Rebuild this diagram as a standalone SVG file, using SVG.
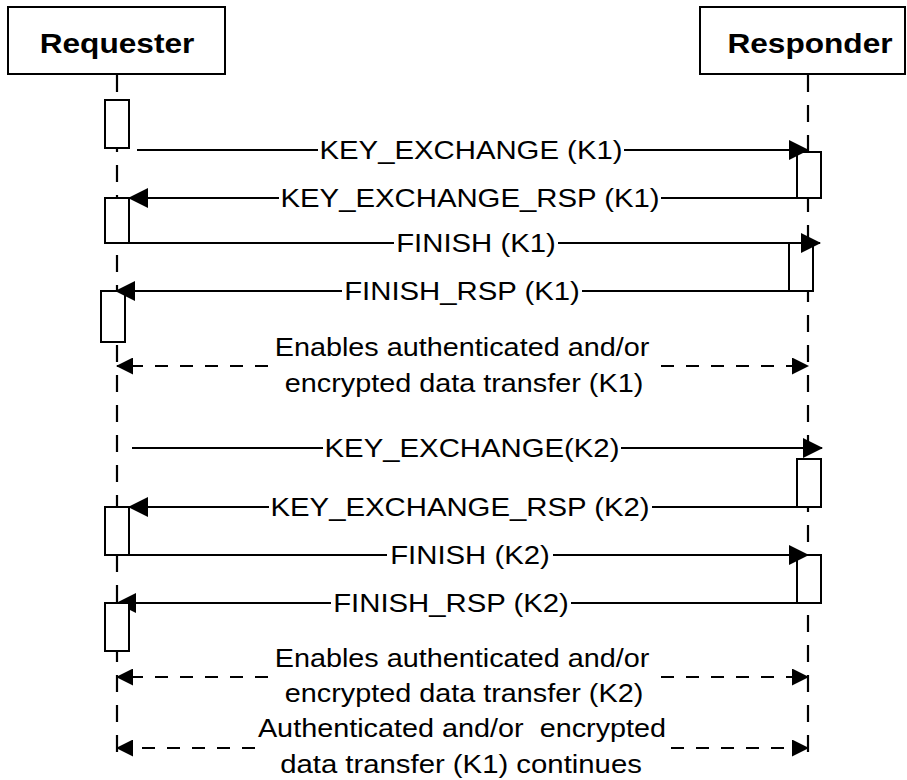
<svg xmlns="http://www.w3.org/2000/svg" width="907" height="780" viewBox="0 0 907 780">
<defs>
<style>
.hbox{fill:#fff;stroke:#000;stroke-width:2}
.act{fill:#fff;stroke:#000;stroke-width:2}
.life{stroke:#000;stroke-width:2.2;stroke-dasharray:17 13;fill:none}
.msg{stroke:#000;stroke-width:2;fill:none;marker-end:url(#ah)}
.dmsg{stroke:#000;stroke-width:2;fill:none;stroke-dasharray:13 12;marker-end:url(#ahd)}
.gap{fill:#fff;stroke:none}
text{font-family:"Liberation Sans",Arial,sans-serif;fill:#000}
.lbl{font-size:25.5px;text-anchor:middle}
.hdr{font-size:28px;font-weight:bold;text-anchor:middle}
</style>
<marker id="ah" viewBox="0 0 20 20" refX="19" refY="10" markerWidth="20" markerHeight="20" markerUnits="userSpaceOnUse" orient="auto"><path d="M0,0 L20,10 L0,20 z" fill="#000"/></marker>
<marker id="ahd" viewBox="0 0 17 17" refX="16" refY="8.5" markerWidth="17" markerHeight="17" markerUnits="userSpaceOnUse" orient="auto"><path d="M0,0 L17,8.5 L0,17 z" fill="#000"/></marker>
</defs>
<rect width="907" height="780" fill="#fff"/>
<g id="lifelines">
<line class="life" x1="117" y1="75" x2="117" y2="762"/>
<line class="life" x1="808" y1="75" x2="808" y2="762"/>
</g>
<g id="requester">
<rect class="hbox" x="8" y="7" width="217" height="67"/>
<text class="hdr" transform="translate(117,53) scale(1.13,1)">Requester</text>
</g>
<g id="responder">
<rect class="hbox" x="700" y="7" width="205" height="67"/>
<text class="hdr" transform="translate(810,53) scale(1.13,1)">Responder</text>
</g>
<g id="activations">
<rect class="act" x="105" y="100" width="24" height="48"/>
<rect class="act" x="105" y="198" width="24" height="45"/>
<rect class="act" x="101" y="291" width="24" height="51"/>
<rect class="act" x="105" y="507" width="24" height="48"/>
<rect class="act" x="797" y="152" width="24" height="46"/>
<rect class="act" x="789" y="243" width="24" height="48"/>
<rect class="act" x="797" y="459" width="24" height="48"/>
<rect class="act" x="797" y="555" width="24" height="48"/>
</g>
<g id="connectors">
<line class="msg" x1="137" y1="150" x2="808" y2="150"/>
<line class="msg" x1="797" y1="198" x2="129" y2="198"/>
<line class="msg" x1="129" y1="243" x2="820" y2="243"/>
<line class="msg" x1="789" y1="291" x2="116" y2="291"/>
<line class="msg" x1="132" y1="448" x2="822" y2="448"/>
<line class="msg" x1="797" y1="507" x2="129" y2="507"/>
<line class="msg" x1="129" y1="555" x2="808" y2="555"/>
<line class="msg" x1="797" y1="603" x2="117" y2="603"/>
<line class="dmsg" x1="268" y1="366" x2="117" y2="366"/>
<line class="dmsg" x1="661" y1="366" x2="808" y2="366"/>
<line class="dmsg" x1="268" y1="677" x2="117" y2="677"/>
<line class="dmsg" x1="661" y1="677" x2="808" y2="677"/>
<line class="dmsg" x1="255" y1="748" x2="117" y2="748"/>
<line class="dmsg" x1="671" y1="748" x2="808" y2="748"/>
</g>
<g id="activation-overlay">
<rect class="act" x="105" y="603" width="24" height="48"/>
</g>
<g id="labels">
<rect class="gap" x="318" y="145" width="306" height="10"/>
<text class="lbl" transform="translate(471,159) scale(1.15,1)">KEY_EXCHANGE (K1)</text>
<rect class="gap" x="279" y="193" width="382" height="10"/>
<text class="lbl" transform="translate(470,207) scale(1.15,1)">KEY_EXCHANGE_RSP (K1)</text>
<rect class="gap" x="394" y="238" width="164" height="10"/>
<text class="lbl" transform="translate(476,252) scale(1.15,1)">FINISH (K1)</text>
<rect class="gap" x="342" y="286" width="240" height="10"/>
<text class="lbl" transform="translate(462,300) scale(1.15,1)">FINISH_RSP (K1)</text>
<text class="lbl" transform="translate(462,356) scale(1.13,1)">Enables authenticated and/or</text>
<text class="lbl" transform="translate(464,392) scale(1.13,1)">encrypted data transfer (K1)</text>
<rect class="gap" x="323" y="443" width="298" height="10"/>
<text class="lbl" transform="translate(472,457) scale(1.15,1)">KEY_EXCHANGE(K2)</text>
<rect class="gap" x="269" y="502" width="383" height="10"/>
<text class="lbl" transform="translate(460,516) scale(1.15,1)">KEY_EXCHANGE_RSP (K2)</text>
<rect class="gap" x="387" y="550" width="166" height="10"/>
<text class="lbl" transform="translate(470,564) scale(1.15,1)">FINISH (K2)</text>
<rect class="gap" x="331" y="598" width="240" height="10"/>
<text class="lbl" transform="translate(451,612) scale(1.15,1)">FINISH_RSP (K2)</text>
<text class="lbl" transform="translate(462,667) scale(1.13,1)">Enables authenticated and/or</text>
<text class="lbl" transform="translate(464,702) scale(1.13,1)">encrypted data transfer (K2)</text>
<text class="lbl" xml:space="preserve" transform="translate(462,737) scale(1.13,1)">Authenticated and/or  encrypted</text>
<text class="lbl" transform="translate(461,773) scale(1.15,1)">data transfer (K1) continues</text>
</g>
</svg>
